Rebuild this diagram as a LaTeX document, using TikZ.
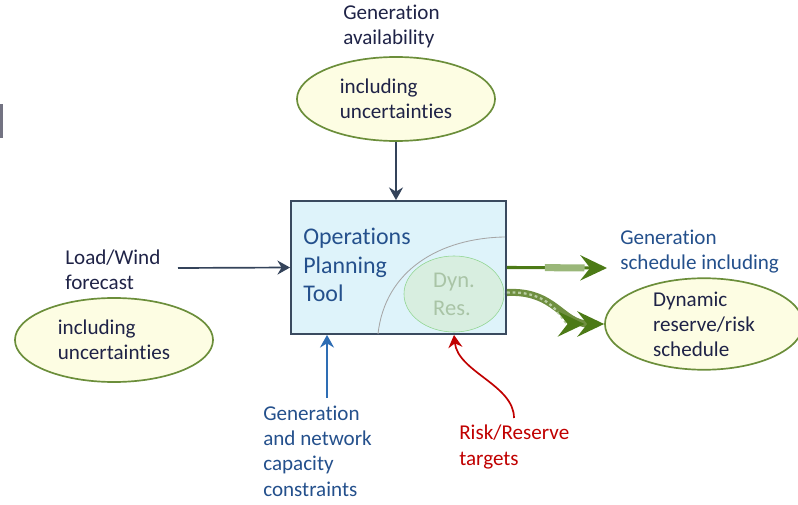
\documentclass[tikz,border=0pt]{standalone}
\usepackage{fontspec}
\setmainfont[Ligatures=NoCommon]{Carlito}
\usetikzlibrary{arrows.meta, shapes.geometric}
\definecolor{colbox}{HTML}{DEF3FA}
\definecolor{colboxline}{HTML}{3A4A5F}
\definecolor{colell}{HTML}{FDFDE3}
\definecolor{colellline}{HTML}{6B8E3A}
\definecolor{coltext}{HTML}{1F2347}
\definecolor{colblue}{HTML}{24508C}
\definecolor{colred}{HTML}{C00000}
\definecolor{colarrow}{HTML}{34435A}
\definecolor{colcap}{HTML}{2E6DB4}
\definecolor{colgreen}{HTML}{4C7A16}
\definecolor{cololive}{HTML}{9AB779}
\definecolor{colrope}{HTML}{6F8F40}
\definecolor{coldyn}{HTML}{D6EDD6}
\definecolor{coldyntext}{HTML}{A9C4A6}
\tikzset{
    % labels are placed by the baseline of their last line
    lbl/.style={font=\fontsize{15}{17.8}\selectfont, align=left,
        inner sep=0pt, anchor=base west, text=coltext},
    input/.style={ellipse, draw=colellline, line width=1.2pt, fill=colell,
        minimum width=4.95cm, minimum height=2.1cm, inner sep=0pt,
        align=left, text=coltext, font=\fontsize{15}{17.8}\selectfont},
    tool/.style={rectangle, draw=colboxline, line width=1.3pt, fill=colbox,
        minimum width=5.375cm, minimum height=3.325cm},
    in arrow/.style={-{Stealth[length=9pt, width=10pt, inset=3pt]},
        line width=1.2pt, draw=colarrow},
    out tip/.style={-{Stealth[length=19pt, width=18pt, inset=7pt, color=colgreen]}},
}

\begin{document}
\begin{tikzpicture}[x=0.025cm, y=-0.025cm]

\useasboundingbox (0,0) rectangle (798,505);

% ===== FRAME EDGE =====
\fill[black!40!blue!10!gray] (0,104) rectangle (3,138);

% ===== PLANNING TOOL =====
\node[tool] (planner) at (398.5,267.5) {};
\draw[black!35, line width=0.6pt] (378,334) .. controls (385,270) and (440,238) .. (505,237);
\node[ellipse, draw=green!45!gray!60, fill=coldyn, fill opacity=0.7, text opacity=1,
      minimum width=2.5cm, minimum height=1.9cm, inner sep=0pt, align=left,
      text=coldyntext, font=\fontsize{16}{20}\selectfont] (dynres) at (454,294) {Dyn.\\Res.};
\node[lbl, text=colblue, font=\fontsize{17}{20.3}\selectfont] (optitle) at (303,302)
    {Operations\\Planning\\Tool};

% ===== INPUTS =====
\node[lbl] (genavail) at (343,45) {Generation\\availability};
\node[input] (availell) at (396,99) {including\\uncertainties};
\node[lbl] (loadfc) at (65,290) {Load/Wind\\forecast};
\node[input] (loadell) at (114,340) {including\\uncertainties};
\node[lbl, text=colblue] (gencap) at (263,496) {Generation\\and network\\capacity\\constraints};
\node[lbl, text=colred] (risktgt) at (459,465) {Risk/Reserve\\targets};
\coordinate (loadin) at (178,268);
\coordinate (capin) at (327,398);
\coordinate (riskin) at (514,418);

% ===== OUTPUTS =====
\node[lbl, text=colblue] (genschedlbl) at (620,270) {Generation\\schedule including};
\node[input] (riskell) at (704,324) {Dynamic\\reserve/risk\\schedule};
\coordinate (schedtip) at (607,268);

% ===== EDGES =====
\draw[in arrow] (availell.south) -- (availell.south |- planner.north);
\draw[in arrow] (loadin) -- (planner.west);
\draw[in arrow, draw=colcap] (capin) -- (capin |- planner.south);
\draw[in arrow, draw=colred] (riskin) .. controls (514,385) and (458,372) .. (dynres |- planner.south);
\draw[out tip, line width=2.2pt, draw=colgreen] (planner.east) -- (schedtip);
\draw[line width=5pt, draw=cololive, shorten <=27pt, shorten >=16pt] (planner.east) -- (schedtip);
\draw[out tip, line width=5pt, draw=colrope,
      postaction={draw=cololive!70!white, line width=1.6pt, dash pattern=on 2pt off 2pt, shorten >=14pt}]
    ([yshift=-17.8pt]planner.east) .. controls (555,290) and (562,324) .. (riskell.west);

\end{tikzpicture}
\end{document}
